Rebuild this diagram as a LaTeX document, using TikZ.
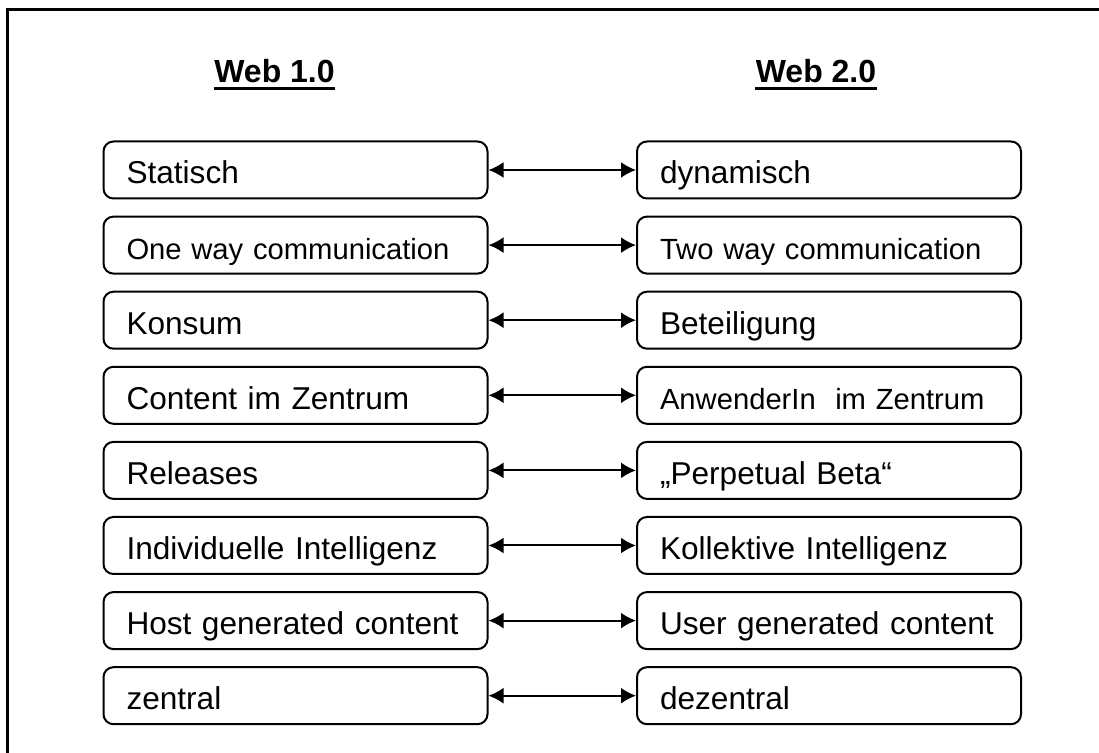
\documentclass[tikz,border=0pt]{standalone}
\usepackage{fontspec}
\setmainfont{Liberation Sans}
\usetikzlibrary{arrows.meta}
\tikzset{
  box/.style={draw, line width=1pt, rounded corners=5pt, minimum height=28.5pt,
    inner ysep=0pt, inner xsep=11.5pt, text width=169pt, align=left,
    text height=17pt, text depth=3pt,
    execute at begin node={\hyphenpenalty=10000\relax},
    font=\fontsize{15.8pt}{18pt}\selectfont},
  smalltext/.style={font=\fontsize{14.6pt}{17pt}\selectfont},
  arr/.style={line width=1pt, {Latex[length=7.5pt,width=8pt]}-{Latex[length=7.5pt,width=8pt]}},
  head/.style={font=\fontsize{16pt}{19pt}\selectfont\bfseries, inner sep=0pt, anchor=base},
  uline/.style={line width=1.5pt},
  frame/.style={line width=1.5pt}
}
\begin{document}
\begin{tikzpicture}[x=0.5pt,y=-0.5pt]
\useasboundingbox (0,0) rectangle (1099,753);
\draw[frame] (7.5,753) -- (7.5,9.5) -- (1099,9.5);
\node[head] (h1) at (274.5,83) {Web 1.0};
\node[head] (h2) at (816,83) {Web 2.0};
\draw[uline] ([yshift=-2.6pt]h1.base west) -- ([yshift=-2.6pt]h1.base east);
\draw[uline] ([yshift=-2.6pt]h2.base west) -- ([yshift=-2.6pt]h2.base east);
\node[box] (l1) at (295.5,170) {Statisch};
\node[box,smalltext] (l2) at (295.5,245.1) {One way communication};
\node[box] (l3) at (295.5,320.2) {Konsum};
\node[box] (l4) at (295.5,395.3) {Content im Zentrum};
\node[box] (l5) at (295.5,470.4) {Releases};
\node[box] (l6) at (295.5,545.5) {Individuelle Intelligenz};
\node[box] (l7) at (295.5,620.6) {Host generated content};
\node[box] (l8) at (295.5,695.7) {zentral};
\node[box] (r1) at (829,170) {dynamisch};
\node[box,smalltext] (r2) at (829,245.1) {Two way communication};
\node[box] (r3) at (829,320.2) {Beteiligung};
\node[box,smalltext] (r4) at (829,395.3) {AnwenderIn~ im Zentrum};
\node[box] (r5) at (829,470.4) {„Perpetual Beta“};
\node[box] (r6) at (829,545.5) {Kollektive Intelligenz};
\node[box] (r7) at (829,620.6) {User generated content};
\node[box] (r8) at (829,695.7) {dezentral};
\foreach \i in {1,...,8}{
  \draw[arr] (l\i.east) -- (r\i.west);
}
\end{tikzpicture}
\end{document}
